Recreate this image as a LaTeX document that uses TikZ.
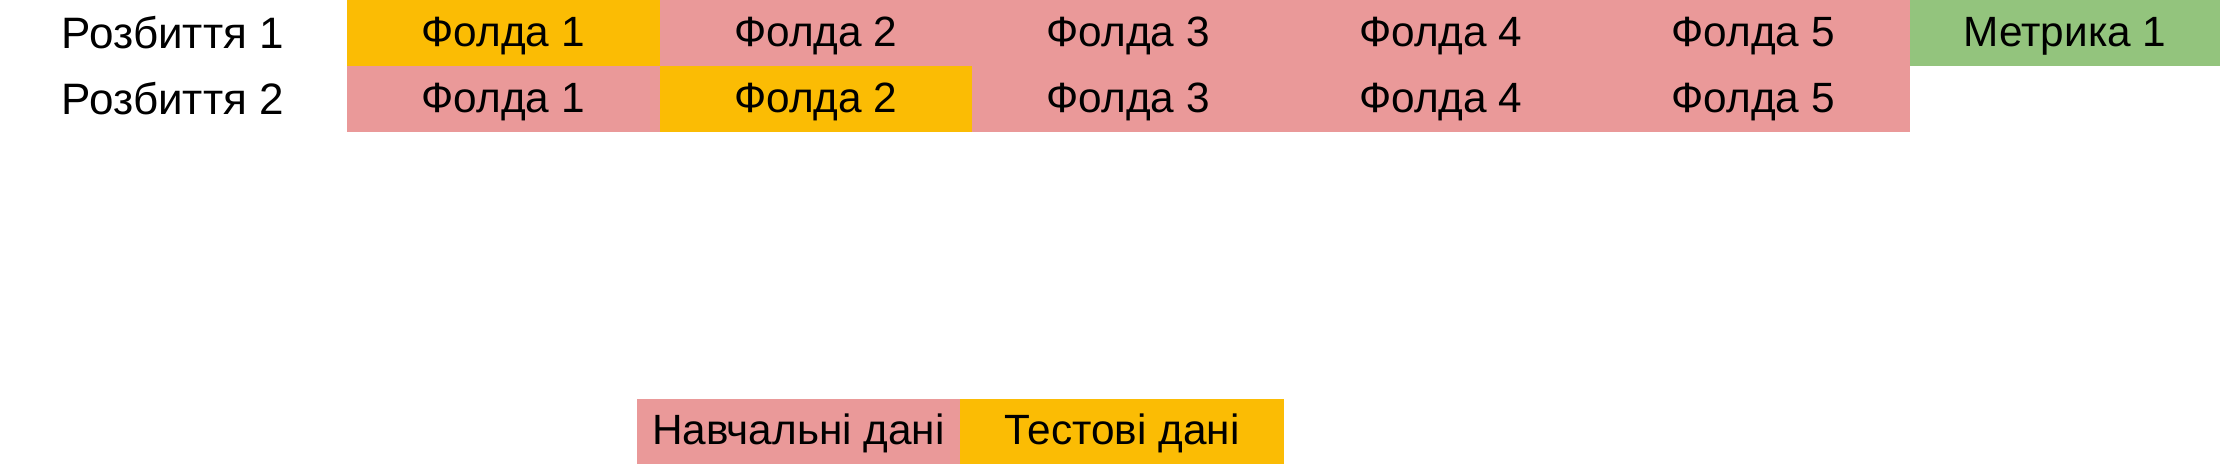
\documentclass[tikz,border=0pt]{standalone}
\usepackage{fontspec}
\setmainfont{Liberation Sans}
\usepackage{tikz}
\usetikzlibrary{positioning}
\definecolor{trainpink}{HTML}{EA9999}
\definecolor{testorange}{HTML}{FBBC04}
\definecolor{metricgreen}{HTML}{93C47D}

\begin{document}
\begin{tikzpicture}[x=0.3pt,y=-0.3pt,node distance=0pt,
    fold/.style={minimum width=93.75pt,minimum height=19.8pt,inner sep=0pt,outer sep=0pt,text height=0.8em,text depth=0pt,font=\fontsize{12.7}{15}\selectfont},
    train/.style={fold,fill=trainpink},
    test/.style={fold,fill=testorange},
    metric/.style={fold,fill=metricgreen,minimum width=93.3pt},
    split/.style={inner sep=0pt,outer sep=0pt,font=\fontsize{13.2}{15}\selectfont}]
    \useasboundingbox (0,0) rectangle (2220,464);

    % first split
    \node[test]  (A) at (503.25,33) {Фолда 1};
    \node[train] (B) [right=of A] {Фолда 2};
    \node[train] (C) [right=of B] {Фолда 3};
    \node[train] (D) [right=of C] {Фолда 4};
    \node[train] (E) [right=of D] {Фолда 5};
    \node[metric] (M) [right=of E] {Метрика 1};
    \node[split] (S1) [left=19pt of A] {Розбиття 1};

    % second split
    \node[train] (F) [below=of A] {Фолда 1};
    \node[test]  (G) [below=of B] {Фолда 2};
    \node[train] (H) [below=of C] {Фолда 3};
    \node[train] (I) [below=of D] {Фолда 4};
    \node[train] (J) [below=of E] {Фолда 5};
    \node[split] (S2) [left=19pt of F] {Розбиття 2};

    % legend
    \node[train,minimum width=97pt,minimum height=19.5pt] (L) at (798.5,431.5) {Навчальні дані};
    \node[test,minimum width=97pt,minimum height=19.5pt]  (T) [right=of L] {Тестові дані};
\end{tikzpicture}
\end{document}
